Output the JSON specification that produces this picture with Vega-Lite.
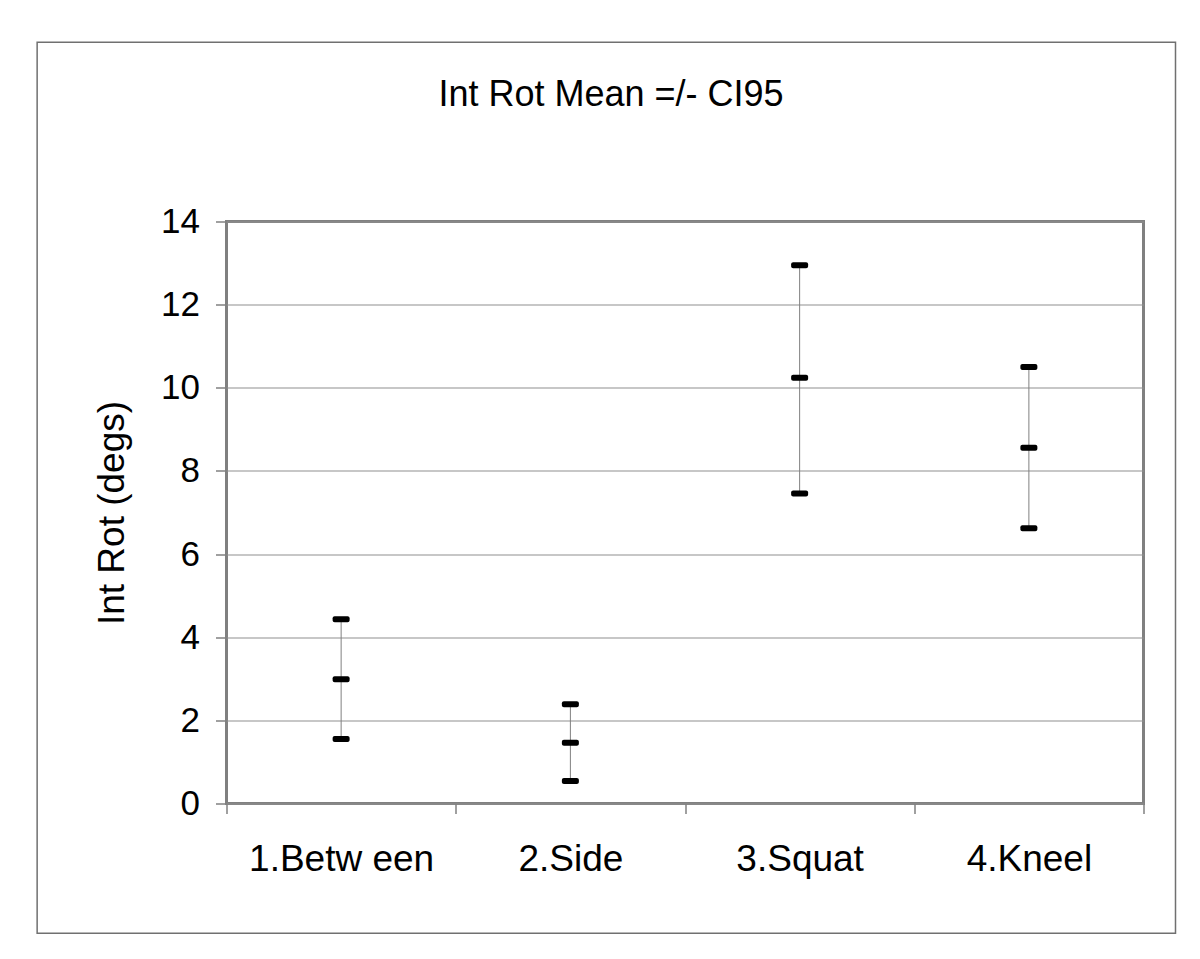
{
  "$schema": "https://vega.github.io/schema/vega-lite/v6.json",
  "autosize": {"type": "none"},
  "padding": {"left": 226.5, "top": 221.5, "right": 56.5, "bottom": 155.5},
  "width": 917,
  "height": 582,
  "background": "white",
  "title": {
    "text": "Int Rot Mean =/- CI95",
    "fontSize": 36,
    "fontWeight": "normal",
    "font": "Liberation Sans",
    "color": "black",
    "anchor": "middle",
    "frame": "group",
    "baseline": "alphabetic",
    "offset": 0,
    "dx": -74,
    "dy": 100
  },
  "data": {
    "values": [
      {"cond": "1.Betw een", "low": 1.55, "mean": 2.99, "high": 4.43},
      {"cond": "2.Side", "low": 0.54, "mean": 1.46, "high": 2.39},
      {"cond": "3.Squat", "low": 7.46, "mean": 10.24, "high": 12.95},
      {"cond": "4.Kneel", "low": 6.62, "mean": 8.56, "high": 10.5}
    ]
  },
  "resolve": {"scale": {"x": "independent"}, "axis": {"x": "independent"}},
  "layer": [
    {
      "data": {"values": [{}]},
      "mark": {"type": "rect", "fill": null, "stroke": "#707070", "strokeWidth": 1.5},
      "encoding": {
        "x": {"datum": -0.2065, "type": "quantitative", "scale": {"domain": [0, 1], "nice": false, "zero": false}, "axis": null},
        "x2": {"datum": 1.0349},
        "y": {"datum": 18.31, "type": "quantitative", "scale": {"domain": [0, 14], "nice": false}},
        "y2": {"datum": -3.12}
      }
    },
    {
      "layer": [
        {
          "mark": {"type": "rule", "color": "#808080", "strokeWidth": 1},
          "encoding": {
            "x": {
              "field": "cond",
              "type": "nominal",
              "sort": null,
              "scale": {"paddingInner": 0, "paddingOuter": 0},
              "axis": {
                "title": null,
                "labelAngle": 0,
                "labelFontSize": 37,
                "labelFont": "Liberation Sans",
                "labelColor": "black",
                "labelPadding": 28,
                "labelLimit": 0,
                "tickBand": "extent",
                "tickSize": 10,
                "tickColor": "#808080",
                "tickWidth": 1.5,
                "domain": false,
                "grid": false
              }
            },
            "y": {
              "field": "low",
              "type": "quantitative",
              "scale": {"domain": [0, 14], "nice": false},
              "axis": {
                "title": "Int Rot (degs)",
                "titleFontSize": 37,
                "titleFont": "Liberation Sans",
                "titleFontWeight": "normal",
                "titleColor": "black",
                "titlePadding": 29,
                "values": [0, 2, 4, 6, 8, 10, 12, 14],
                "labelFontSize": 35,
                "labelFont": "Liberation Sans",
                "labelColor": "black",
                "labelPadding": 16,
                "tickSize": 11,
                "tickColor": "#808080",
                "tickWidth": 1.5,
                "domain": false,
                "grid": true,
                "gridColor": "#8f8f8f",
                "gridWidth": 1
              }
            },
            "y2": {"field": "high"}
          }
        },
        {
          "mark": {"type": "tick", "color": "black", "size": 17, "thickness": 6, "cornerRadius": 2, "opacity": 1},
          "encoding": {
            "x": {"field": "cond", "type": "nominal", "sort": null},
            "y": {"field": "low", "type": "quantitative"}
          }
        },
        {
          "mark": {"type": "tick", "color": "black", "size": 17, "thickness": 6, "cornerRadius": 2, "opacity": 1},
          "encoding": {
            "x": {"field": "cond", "type": "nominal", "sort": null},
            "y": {"field": "mean", "type": "quantitative"}
          }
        },
        {
          "mark": {"type": "tick", "color": "black", "size": 17, "thickness": 6, "cornerRadius": 2, "opacity": 1},
          "encoding": {
            "x": {"field": "cond", "type": "nominal", "sort": null},
            "y": {"field": "high", "type": "quantitative"}
          }
        }
      ]
    }
  ],
  "config": {
    "view": {"stroke": "#808080", "strokeWidth": 3},
    "font": "Liberation Sans"
  }
}
